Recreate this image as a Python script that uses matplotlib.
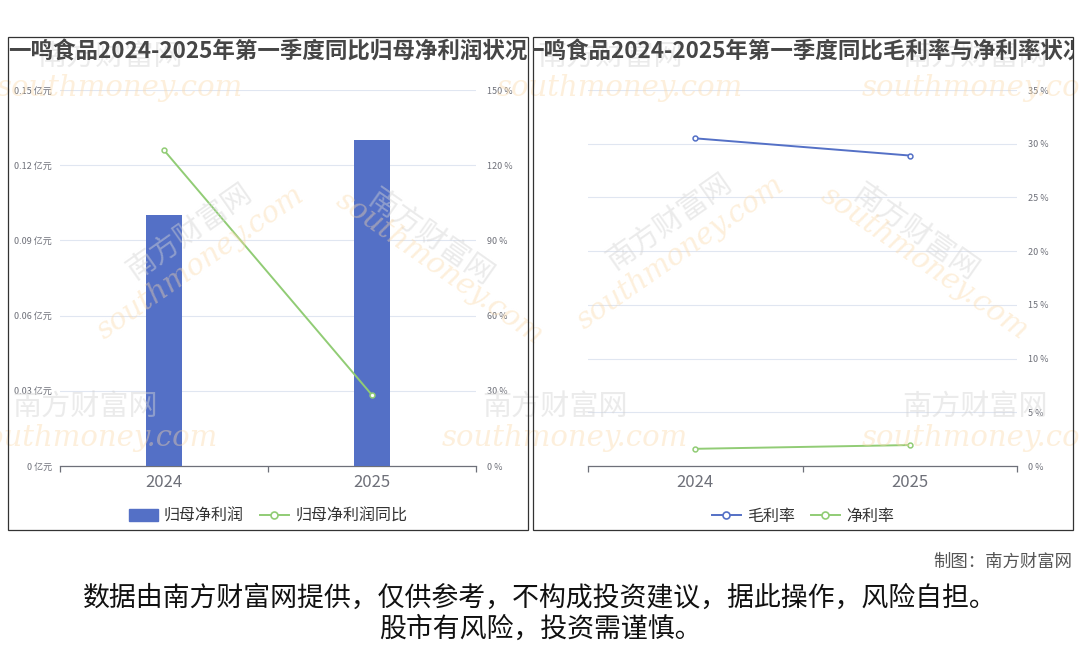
# 一鸣食品 2024-2025 一季度 归母净利润 / 毛利率与净利率
import numpy as np
import matplotlib.pyplot as plt
from matplotlib.patches import Rectangle, FancyBboxPatch
from matplotlib.lines import Line2D

plt.rcParams['font.family'] = ['Noto Sans CJK SC', 'DejaVu Sans']

# 数据
years = ['2024', '2025']
profit = [0.10, 0.13]            # 归母净利润（亿元）
profit_yoy = [126.0, 28.3]       # 归母净利润同比（%）
gross_margin = [30.5, 28.9]      # 毛利率（%）
net_margin = [1.6, 1.95]         # 净利率（%）

left_ticks = [0, 0.03, 0.06, 0.09, 0.12, 0.15]
yoy_ticks = [0, 30, 60, 90, 120, 150]
rate_ticks = [0, 5, 10, 15, 20, 25, 30, 35]

title_left = '一鸣食品2024-2025年第一季度同比归母净利润状况'
title_right = '一鸣食品2024-2025年第一季度同比毛利率与净利率状况'

BLUE = '#5470c6'
GREEN = '#91cc75'
LABEL = '#6e7079'
GRID = '#e0e6f1'
W, H = 1080, 646

fig = plt.figure(figsize=(10.8, 6.46), dpi=100)


def fx(x):
    return x / W


def fy(y):
    return 1 - y / H


# 面板边框
panels = [(8, 37, 528, 530), (533, 37, 1073, 530)]
for x0, y0, x1, y1 in panels:
    fig.patches.append(Rectangle((fx(x0), fy(y1)), fx(x1 - x0), (y1 - y0) / H,
                                 transform=fig.transFigure, fill=False,
                                 edgecolor='#333333', lw=0.9, zorder=5))

# 水印（淡色）
marks = [
    (110, 70, 0), (610, 70, 0), (975, 70, 0),
    (190, 245, 35), (430, 250, -35), (670, 235, 35), (915, 245, -35),
    (85, 420, 0), (555, 420, 0), (975, 420, 0),
]
for x, y, rot in marks:
    fig.text(fx(x), fy(y - 12), '南方财富网', fontsize=21, color='#d4d4d4', alpha=0.45,
             rotation=rot, ha='center', va='center', zorder=1)
    fig.text(fx(x + 10), fy(y + 18), 'southmoney.com', fontsize=21, color='#fbd9a8',
             alpha=0.4, rotation=rot, ha='center', va='center', style='italic',
             family='DejaVu Serif', zorder=1)


def style_axis(ax):
    for s in ['top', 'left', 'right']:
        ax.spines[s].set_visible(False)
    ax.spines['bottom'].set_color('#6e7079')
    ax.spines['bottom'].set_linewidth(0.9)
    ax.set_xlim(-0.5, 1.5)
    ax.set_xticks([-0.5, 0.5, 1.5])
    ax.set_xticklabels([])
    ax.tick_params(axis='x', length=4, color='#6e7079', width=0.9)
    for i, yr in enumerate(years):
        ax.text(i, -0.022, yr, transform=ax.get_xaxis_transform(), ha='center',
                va='top', fontsize=12, color=LABEL)
    ax.patch.set_alpha(0)


# 左图
ax1 = fig.add_axes([fx(60), fy(466), fx(416), 376 / H])
x = np.arange(len(years))
ax1.bar(x, profit, width=0.173, color=BLUE, zorder=3)
ax1.set_ylim(0, 0.15)
ax1.set_yticks(left_ticks)
ax1.set_yticklabels([('0' if v == 0 else f'{v:.2f}') + ' 亿元' for v in left_ticks])
ax1.tick_params(axis='y', length=0, labelsize=6.5, labelcolor=LABEL, pad=6)
ax1.grid(axis='y', color=GRID, lw=0.8, zorder=0)
style_axis(ax1)

ax1b = ax1.twinx()
ax1b.plot(x, profit_yoy, color=GREEN, lw=1.4, marker='o', ms=3.5,
          mfc='white', mec=GREEN, mew=1.1, zorder=4)
ax1b.set_ylim(0, 150)
ax1b.set_yticks(yoy_ticks)
ax1b.set_yticklabels([f'{v} %' for v in yoy_ticks])
ax1b.tick_params(axis='y', length=0, labelsize=6.5, labelcolor=LABEL, pad=8)
for s in ax1b.spines.values():
    s.set_visible(False)
ax1b.set_xlim(-0.5, 1.5)

# 右图
ax2 = fig.add_axes([fx(588), fy(466), fx(429), 376 / H])
ax2.plot(x, gross_margin, color=BLUE, lw=1.4, marker='o', ms=3.5,
         mfc='white', mec=BLUE, mew=1.1, zorder=4)
ax2.plot(x, net_margin, color=GREEN, lw=1.4, marker='o', ms=3.5,
         mfc='white', mec=GREEN, mew=1.1, zorder=4)
ax2.set_ylim(0, 35)
ax2.yaxis.tick_right()
ax2.set_yticks(rate_ticks)
ax2.set_yticklabels([f'{v} %' for v in rate_ticks])
ax2.tick_params(axis='y', length=0, labelsize=6.5, labelcolor=LABEL, pad=8)
ax2.grid(axis='y', color=GRID, lw=0.8, zorder=0)
style_axis(ax2)

# 标题（超出面板部分裁掉）
for (x0, y0, x1, y1), t in zip(panels, [title_left, title_right]):
    clip = Rectangle((fx(x0), fy(y1)), fx(x1 - x0), (y1 - y0) / H,
                     transform=fig.transFigure, visible=False)
    fig.patches.append(clip)
    tt = fig.text(fx((x0 + x1) / 2), fy(52), t, ha='center', va='center',
                  fontsize=16.2, fontweight='bold', color='#464646', zorder=6)
    tt.set_clip_path(clip)

# 图例
h_bar = FancyBboxPatch((0, 0), 1, 1, boxstyle='round,pad=0.1', color=BLUE)
h_yoy = Line2D([], [], color=GREEN, lw=1.4, marker='o', ms=5, mfc='white', mew=1.2)
h_gm = Line2D([], [], color=BLUE, lw=1.4, marker='o', ms=5, mfc='white', mew=1.2)
h_nm = Line2D([], [], color=GREEN, lw=1.4, marker='o', ms=5, mfc='white', mew=1.2)
leg_kw = dict(loc='center', ncol=2, frameon=False, fontsize=11.5, handlelength=1.8,
              handletextpad=0.4, columnspacing=1.0, labelcolor='#333333')
fig.legend([h_bar, h_yoy], ['归母净利润', '归母净利润同比'],
           bbox_to_anchor=(fx(268), fy(516)), **leg_kw)
fig.legend([h_gm, h_nm], ['毛利率', '净利率'],
           bbox_to_anchor=(fx(803), fy(516)), **leg_kw)

# 底部说明
fig.text(fx(1072), fy(562), '制图：南方财富网', ha='right', va='center',
         fontsize=12.5, color='#555555')
fig.text(0.5, fy(598), '数据由南方财富网提供，仅供参考，不构成投资建议，据此操作，风险自担。',
         ha='center', va='center', fontsize=19.4, color='#111111')
fig.text(0.5, fy(629), '股市有风险，投资需谨慎。', ha='center', va='center',
         fontsize=19.4, color='#111111')

fig.savefig('out.png', dpi=100)
